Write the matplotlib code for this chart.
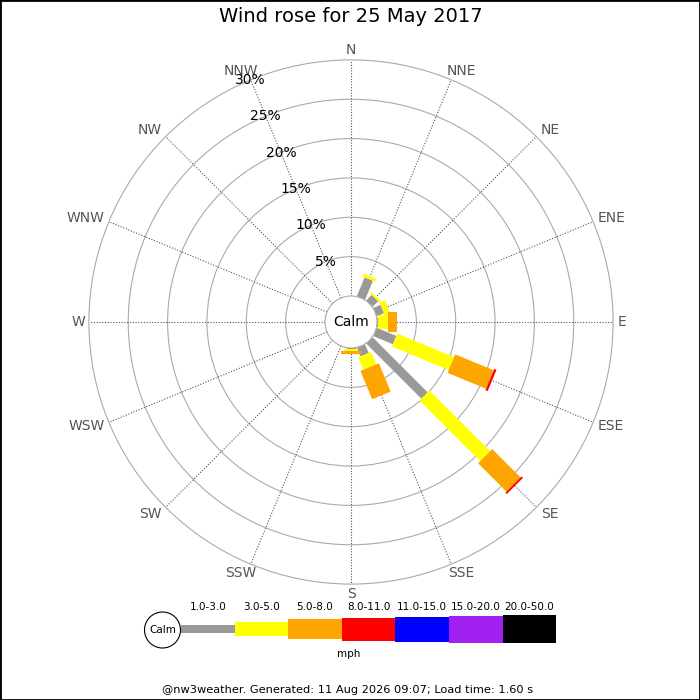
import numpy as np
import matplotlib
matplotlib.use("Agg")
import matplotlib.pyplot as plt
from matplotlib.patches import Polygon, Circle, Rectangle

# 16 compass directions, clockwise from N
directions = ['N', 'NNE', 'NE', 'ENE', 'E', 'ESE', 'SE', 'SSE',
              'S', 'SSW', 'SW', 'WSW', 'W', 'WNW', 'NW', 'NNW']

# frequency (%) per speed class and direction
spd_1_3 = [0, 2.6, 1.0, 1.0, 0.15, 2.7, 9.9, 1.2, 0.1, 0, 0, 0, 0, 0, 0, 0]
spd_3_5 = [0, 0.4, 0.25, 0.75, 1.27, 7.8, 10.9, 1.7, 0.3, 0, 0, 0, 0, 0, 0, 0]
spd_5_8 = [0, 0, 0, 0, 1.07, 5.3, 5.1, 3.9, 0.4, 0, 0, 0, 0, 0, 0, 0]
spd_8_11 = [0, 0, 0, 0, 0, 0.3, 0.25, 0, 0, 0, 0, 0, 0, 0, 0, 0]
spd_11_15 = [0] * 16
spd_15_20 = [0] * 16
spd_20_50 = [0] * 16

speed_labels = ['1.0-3.0', '3.0-5.0', '5.0-8.0', '8.0-11.0',
                '11.0-15.0', '15.0-20.0', '20.0-50.0']
speed_colors = ['#999999', '#ffff00', '#ffa500', '#ff0000',
                '#0000ff', '#a020f0', '#000000']
ring_pcts = [5, 10, 15, 20, 25, 30]

classes = [spd_1_3, spd_3_5, spd_5_8, spd_8_11, spd_11_15, spd_15_20, spd_20_50]

# px per percent unit, and pixel sizes
scale = 7.87
cx, cy = 351, 322
calm_r = 26 / scale
bar_px = [9, 14, 20, 23, 25, 27, 28]

fig = plt.figure(figsize=(7, 7), dpi=100)
ax = fig.add_axes([0, 0, 1, 1])
ax.set_xlim(-cx / scale, (700 - cx) / scale)
ax.set_ylim(-(700 - cy) / scale, cy / scale)
ax.set_aspect('equal')
ax.axis('off')

outer = calm_r + ring_pcts[-1]

# rings
for p in ring_pcts:
    ax.add_patch(Circle((0, 0), calm_r + p, fill=False, ec='#aaaaaa', lw=0.8, zorder=1))

# spokes and direction labels
for i, d in enumerate(directions):
    th = np.deg2rad(i * 22.5)
    ux, uy = np.sin(th), np.cos(th)
    ax.plot([calm_r * ux, outer * ux], [calm_r * uy, outer * uy],
            ls=(0, (1, 1.5)), color='#555555', lw=0.8, zorder=1)
    # label anchored at the end of the spoke
    ex, ey = outer * ux, outer * uy
    dy = 10 * uy / scale
    if abs(ux) < 0.5:
        dx = 10 * np.sign(round(ux, 3)) / scale
        ha = 'center'
    elif ux > 0:
        dx = 4.5 / scale
        ha = 'left'
    else:
        dx = -4 / scale
        ha = 'right'
    ax.text(ex + dx, ey + dy, d, ha=ha, va='center',
            fontsize=10, color='#555555')

# percent labels along NNW
th = np.deg2rad(337.5)
for p in ring_pcts:
    r = calm_r + p
    ax.text(r * np.sin(th), r * np.cos(th), f'{p}%', ha='center', va='center',
            fontsize=10, color='black', zorder=3)

# bars
cum = np.zeros(16)
for k, vals in enumerate(classes):
    w = bar_px[k] / scale / 2
    for i in range(16):
        v = vals[i]
        if v <= 0:
            continue
        th = np.deg2rad(i * 22.5)
        u = np.array([np.sin(th), np.cos(th)])
        pp = np.array([np.cos(th), -np.sin(th)])
        r0 = calm_r + cum[i]
        r1 = r0 + v
        pts = [r0 * u + w * pp, r1 * u + w * pp, r1 * u - w * pp, r0 * u - w * pp]
        ax.add_patch(Polygon(pts, closed=True, fc=speed_colors[k], ec='none', zorder=2))
        cum[i] += v

# calm circle
ax.add_patch(Circle((0, 0), calm_r, fc='white', ec='#aaaaaa', lw=0.8, zorder=4))
ax.text(0, 0, 'Calm', ha='center', va='center', fontsize=10, zorder=5)

# legend in pixel coords
lg = fig.add_axes([0, 0, 1, 1])
lg.set_xlim(0, 700)
lg.set_ylim(700, 0)
lg.axis('off')
lg.patch.set_alpha(0)
x0, seg, ymid = 181, 53.6, 629.3
for k, lab in enumerate(speed_labels):
    h = bar_px[k] if k else 8
    lg.add_patch(Rectangle((x0 + k * seg, ymid - h / 2), seg, h,
                           fc=speed_colors[k], ec='none'))
    lg.text(x0 + k * seg + seg / 2, 607, lab, ha='center', va='center', fontsize=7.5)
lg.add_patch(Circle((162.5, 630), 18, fc='white', ec='black', lw=0.8, zorder=3))
lg.text(162.5, 630, 'Calm', ha='center', va='center', fontsize=7.5, zorder=4)
lg.text(349, 654, 'mph', ha='center', va='center', fontsize=7.5)

fig.text(351 / 700, 1 - 17 / 700, 'Wind rose for 25 May 2017',
         ha='center', va='center', fontsize=14)
fig.text(348 / 700, 1 - 690 / 700,
         '@nw3weather. Generated: 11 Aug 2026 09:07; Load time: 1.60 s',
         ha='center', va='center', fontsize=8.2)

fig.add_artist(Rectangle((0, 0), 1, 1, transform=fig.transFigure,
                         fill=False, ec='black', lw=2))

fig.savefig('out.png', dpi=100)
